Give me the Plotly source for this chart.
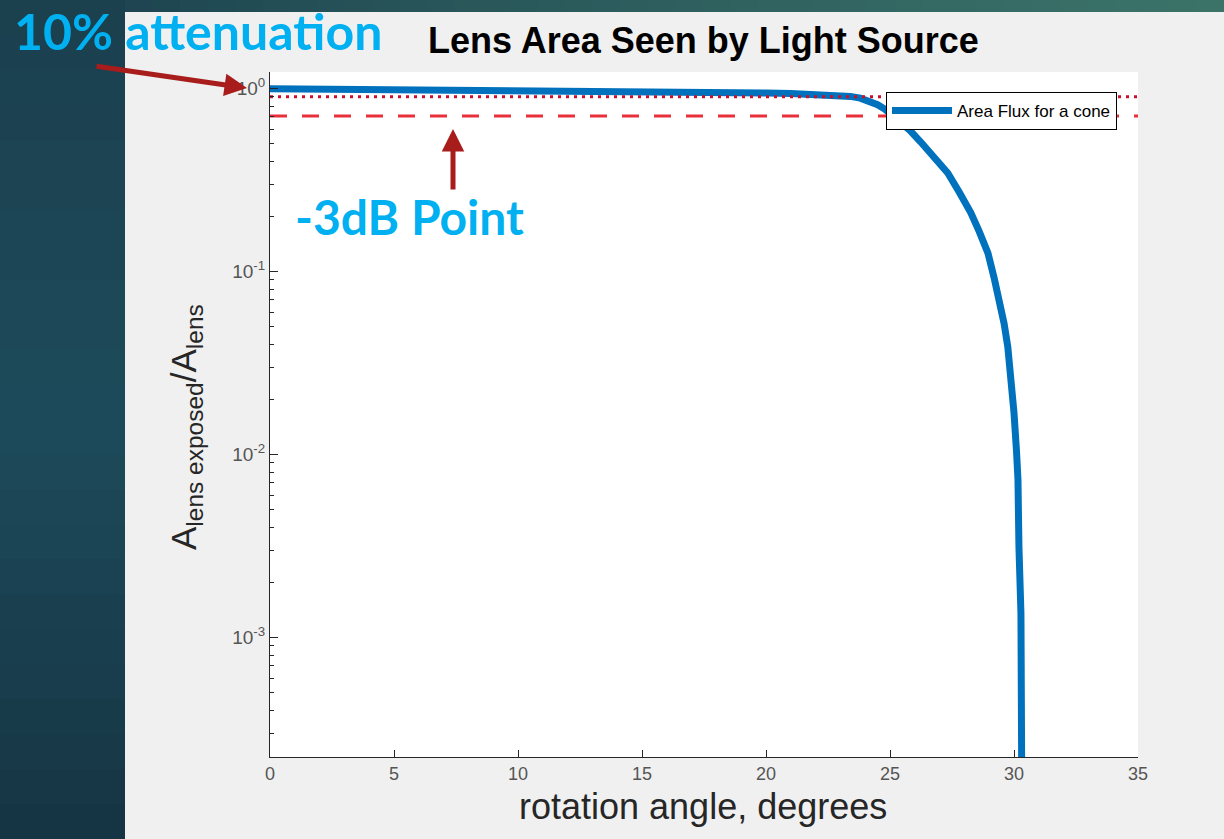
import plotly.graph_objects as go

# ---- data ----
angle_deg = [0, 2, 5, 8, 10, 13, 15, 18, 20, 21, 22.2, 23.0, 23.4, 23.8, 24.2,
             24.5, 24.8, 25.05, 25.31, 25.8, 26.24, 26.8, 27.33, 27.8, 28.0, 28.26,
             28.6, 28.95, 29.2, 29.47, 29.6, 29.75, 29.9, 30.0, 30.1, 30.16, 30.2,
             30.28, 30.32]
area_ratio = [0.995, 0.992, 0.986, 0.978, 0.972, 0.966, 0.962, 0.952, 0.945, 0.94,
              0.93, 0.915, 0.905, 0.885, 0.85, 0.815, 0.77, 0.725, 0.673, 0.59,
              0.51, 0.42, 0.345, 0.27, 0.243, 0.209, 0.165, 0.126, 0.092, 0.064,
              0.052, 0.0387, 0.025, 0.0169, 0.0105, 0.0073, 0.0031, 0.00136, 0.0001]
atten_10pct = 0.9
point_3db = 0.707
x_ref = [0, 35]

x_ticks = [0, 5, 10, 15, 20, 25, 30, 35]
y_ticks = [1e-3, 1e-2, 1e-1, 1]
y_tick_text = ["10<sup>-3</sup>", "10<sup>-2</sup>", "10<sup>-1</sup>", "10<sup>0</sup>"]
y_minor = [m * 10.0 ** e for e in (-4, -3, -2, -1) for m in range(2, 10)]

W, H = 1224, 839
L, R, T, B = 270, 1138, 72, 757


def px(x):
    return (x - L) / (R - L)


def py(y):
    return (B - y) / (B - T)


fig = go.Figure()
fig.add_trace(go.Scatter(x=angle_deg, y=area_ratio, mode="lines",
                         name="Area Flux for a cone",
                         line=dict(color="#0072BD", width=7)))
fig.add_trace(go.Scatter(x=x_ref, y=[atten_10pct] * 2, mode="lines", showlegend=False,
                         line=dict(color="#C8102E", width=3, dash="3px,5px")))
fig.add_trace(go.Scatter(x=x_ref, y=[point_3db] * 2, mode="lines", showlegend=False,
                         line=dict(color="#E8303A", width=3, dash="17px,15px")))

shapes = []
n = 24


def lerp(c1, c2, f):
    return tuple(int(round(a + (b - a) * f)) for a, b in zip(c1, c2))


top_c, mid_c, bot_c = (27, 63, 77), (29, 75, 91), (22, 52, 67)
for i in range(n):
    y0 = i * H / n
    y1 = (i + 1) * H / n + 1
    f = (i + 0.5) / n
    c = lerp(top_c, mid_c, f * 2) if f < 0.5 else lerp(mid_c, bot_c, (f - 0.5) * 2)
    shapes.append(dict(type="rect", xref="paper", yref="paper", layer="below",
                       x0=px(0), x1=px(125), y0=py(y1), y1=py(y0),
                       fillcolor="rgb(%d,%d,%d)" % c, line=dict(width=0)))
m = 40
for i in range(m):
    x0 = 125 + i * (W - 125) / m
    x1 = 125 + (i + 1) * (W - 125) / m + 1
    f = (i + 0.5) / m
    c = lerp((29, 68, 80), (59, 115, 105), f ** 0.8)
    shapes.append(dict(type="rect", xref="paper", yref="paper", layer="below",
                       x0=px(x0), x1=px(x1), y0=py(12), y1=py(0),
                       fillcolor="rgb(%d,%d,%d)" % c, line=dict(width=0)))

annotations = [
    dict(text="<b>Lens Area Seen by Light Source</b>", x=px(703), y=py(41),
         xanchor="center", yanchor="middle",
         xref="paper", yref="paper", showarrow=False,
         font=dict(family="Liberation Sans", size=36, color="#000000")),
    dict(text="rotation angle, degrees", x=px(703), y=py(806),
         xanchor="center", yanchor="middle",
         xref="paper", yref="paper", showarrow=False,
         font=dict(family="Liberation Sans", size=36, color="#262626")),
    dict(text="A<sub>lens exposed</sub>/A<sub>lens</sub>", x=px(186), y=py(427),
         xanchor="center", yanchor="middle",
         xref="paper", yref="paper", showarrow=False, textangle=-90,
         font=dict(family="Liberation Sans", size=35, color="#262626")),
    dict(text="<b>10% attenuation</b>", x=px(12), y=py(31), xanchor="left",
         yanchor="middle",
         xref="paper", yref="paper", showarrow=False,
         font=dict(family="Lato", size=50, color="#00B0F0")),
    dict(text="<b>-3dB Point</b>", x=px(293), y=py(217), xanchor="left",
         yanchor="middle",
         xref="paper", yref="paper", showarrow=False,
         font=dict(family="Lato", size=48, color="#00B0F0")),
    dict(text="", x=px(247), y=py(88), xref="paper", yref="paper",
         showarrow=True, ax=95 - 247, ay=66 - 88, arrowhead=2, arrowsize=0.9,
         arrowwidth=5, arrowcolor="#A81C1C", standoff=0),
    dict(text="", x=px(453), y=py(129), xref="paper", yref="paper",
         showarrow=True, ax=0, ay=191 - 129, arrowhead=2, arrowsize=0.9,
         arrowwidth=5, arrowcolor="#A81C1C", standoff=0),
]

fig.update_layout(
    width=W, height=H,
    margin=dict(l=L, r=W - R, t=T, b=H - B, pad=0),
    paper_bgcolor="#F0F0F0", plot_bgcolor="#FFFFFF",
    shapes=shapes, annotations=annotations,
    showlegend=True,
    legend=dict(x=px(1117), y=py(92), xanchor="right", yanchor="top",
                bgcolor="#FFFFFF", bordercolor="#000000", borderwidth=1,
                itemwidth=60,
                font=dict(family="Liberation Sans", size=17, color="#000000"),
                tracegroupgap=0),
    xaxis=dict(range=[0, 35], tickvals=x_ticks, ticks="inside", ticklen=7,
               tickcolor="#262626", showgrid=False, zeroline=False,
               showline=True, linecolor="#262626", linewidth=1,
               tickfont=dict(family="Liberation Sans", size=18, color="#555555")),
    yaxis=dict(type="log", range=[-3.653, 0.09], tickvals=y_ticks,
               ticktext=y_tick_text, ticks="inside", ticklen=8,
               tickcolor="#262626", showgrid=False, zeroline=False,
               showline=True, linecolor="#262626", linewidth=1,
               tickfont=dict(family="Liberation Sans", size=19, color="#555555"),
               minor=dict(tickvals=y_minor, ticks="inside", ticklen=4,
                          tickcolor="#262626", showgrid=False)),
)

fig.write_html("out.html")
